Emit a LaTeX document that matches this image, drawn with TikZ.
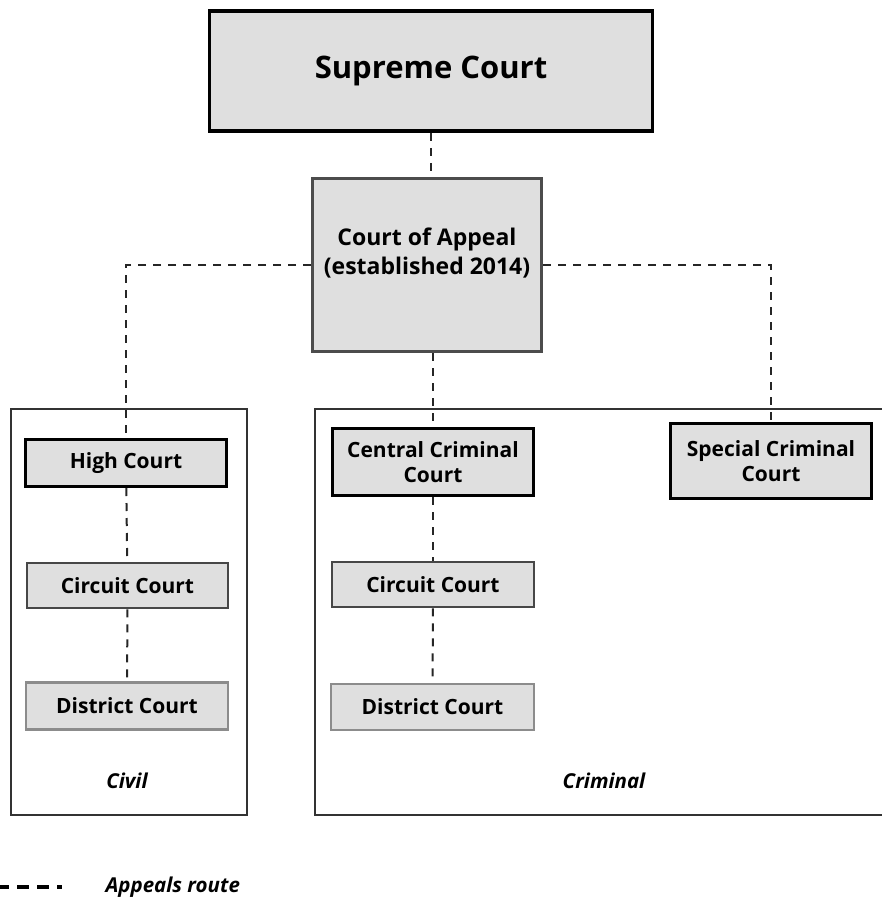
\documentclass[tikz,border=0pt]{standalone}
\usepackage{fontspec}
\setmainfont{Open Sans}
\usetikzlibrary{positioning}
\definecolor{courtfill}{HTML}{DFDFDF}
\begin{document}
\begin{tikzpicture}[x=1pt,y=-1pt,
    court/.style={draw,fill=courtfill,line width=3pt,align=center,
      font=\bfseries\fontsize{21}{25}\selectfont,inner sep=2pt},
    appeal/.style={dash pattern=on 8pt off 7pt,line width=2pt,black!85},
    panel/.style={line width=1.4pt,black!80},
    sidelabel/.style={font=\bfseries\itshape\fontsize{20.5}{24}\selectfont}]
  \useasboundingbox (0,0) rectangle (882,899);
  % the two panels
  \draw[panel] (11,409) rectangle (247,815);
  \draw[panel] (885,409) -- (315,409) -- (315,815) -- (885,815);
  \node[sidelabel] (civil) at (127,781) {Civil};
  \node[sidelabel] (criminal) at (604,781) {Criminal};
  % courts
  \node[court,line width=3.5pt,minimum width=443,minimum height=120,
    font=\bfseries\fontsize{31}{36}\selectfont] (sc) at (431,71) {Supreme Court};
  \node[court,draw=black!70,minimum width=229,minimum height=173,
    font=\bfseries\fontsize{23}{29}\selectfont] (ca) at (427,265)
    {\raisebox{5pt}[0pt][0pt]{\begin{tabular}{@{}c@{}}Court of Appeal\\
      (established 2014)\end{tabular}}};
  \node[court,minimum width=201,minimum height=47] (hc) at (126,463) {High Court};
  \node[court,draw=black!72,line width=2.5pt,minimum width=201,minimum height=45]
    (cc1) at (127.5,585.5) {Circuit Court};
  \node[court,draw=black!45,line width=2.5pt,minimum width=202,minimum height=47]
    (dc1) at (127,706) {District Court};
  \node[court,minimum width=201,minimum height=67] (ccc) at (433,462)
    {Central Criminal\\Court};
  \node[court,minimum width=201,minimum height=75] (scc) at (771,461)
    {Special Criminal\\Court};
  \node[court,draw=black!72,line width=2.5pt,minimum width=202,minimum height=45]
    (cc2) at (433,584.5) {Circuit Court};
  \node[court,draw=black!45,line width=2.5pt,minimum width=203,minimum height=46]
    (dc2) at (432.5,707) {District Court};
  % appeals routes
  \draw[appeal] (sc.south) -- (sc.south |- ca.north);
  \draw[appeal] (ca.west) -| (hc.north);
  \draw[appeal] (ca.east) -| (scc.north);
  \draw[appeal] (ccc.north |- ca.south) -- (ccc.north);
  \draw[appeal] (hc) -- (cc1);
  \draw[appeal] (cc1) -- (dc1);
  \draw[appeal] (ccc) -- (cc2);
  \draw[appeal] (cc2) -- (dc2);
  % key
  \coordinate (keyA) at (-3,887);
  \coordinate (keyB) at (62,887);
  \draw[line width=3.5pt,dash pattern=on 12pt off 8pt] (keyA) -- (keyB);
  \node[sidelabel,anchor=west] (key) at (102,887) {Appeals route};
\end{tikzpicture}
\end{document}
